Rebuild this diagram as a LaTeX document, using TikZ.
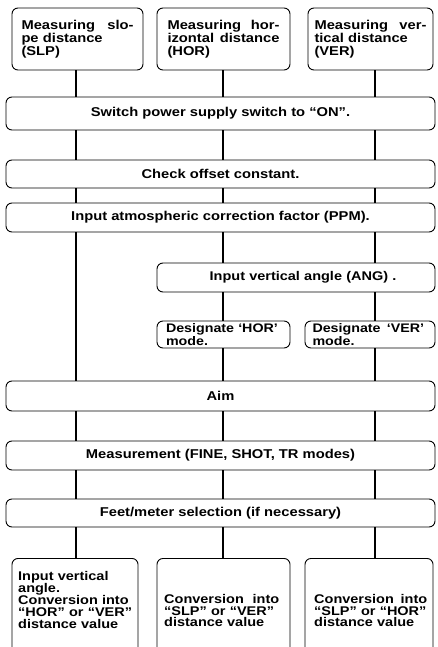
\documentclass[tikz,border=0pt]{standalone}
\usepackage{fontspec}
\setmainfont{Liberation Sans}[FakeStretch=1.15]
\tikzset{
  box/.style={draw, rounded corners=6pt, line width=0.9pt, inner sep=0pt,
    align=center, font=\bfseries\fontsize{12.8}{14}\selectfont},
  topbox/.style={box, minimum height=62pt, text width=112pt, align=left,
    font=\bfseries\fontsize{12.8}{12.8}\selectfont},
  wide/.style={box, minimum width=429pt},
  desbox/.style={box, minimum height=27pt, text width=115pt, align=left,
    font=\bfseries\fontsize{12.4}{11}\selectfont},
  botbox/.style={draw, rounded corners=6pt, line width=0.9pt, inner sep=0pt,
    minimum height=102pt},
  bottext/.style={anchor=north west, inner sep=0pt, align=left,
    font=\bfseries\fontsize{12.6}{11.8}\selectfont},
  conn/.style={line width=2.8pt},
}
\begin{document}
\begin{tikzpicture}[x=1pt,y=-1pt]
\useasboundingbox (0,0) rectangle (437,647);
\clip (0,0) rectangle (437,647);
% columns
\coordinate (c1) at (76,0);
\coordinate (c2) at (223,0);
\coordinate (c3) at (375,0);
% top boxes
\node[topbox, minimum width=131pt] (slp) at (77.5,39) {Measuring\hfill slo-\\pe distance\\(SLP)};
\node[topbox, minimum width=133pt] (hor) at (223.5,39) {Measuring\hfill hor-\\izontal\hfill distance\\(HOR)};
\node[topbox, minimum width=125pt] (ver) at (370.5,39) {Measuring\hfill ver-\\tical distance\\(VER)};
% wide boxes
\node[wide, minimum height=33pt] (sw) at (220.5,113.5) {Switch power supply switch to “ON”.};
\node[wide, minimum height=28pt] (chk) at (220.5,174) {Check offset constant.};
\node[wide, minimum height=29pt] (atm) at (220.5,217.5) {Input atmospheric correction factor (PPM).};
\node[box, minimum width=278pt, minimum height=29pt, text width=278pt, font=\bfseries\fontsize{12.6}{14}\selectfont] (ang) at (296,277.5) {\hspace*{14pt}Input vertical angle (ANG) .};
\node[desbox, minimum width=133pt] (desh) at (223.5,334.5) {Designate ‘HOR’\\mode.};
\node[desbox, minimum width=130pt] (desv) at (370,334.5) {Designate \,‘VER’\\mode.};
\node[wide, minimum height=30pt] (aim) at (220.5,396) {Aim};
\node[wide, minimum height=29pt] (meas) at (220.5,455.5) {Measurement (FINE, SHOT, TR modes)};
\node[wide, minimum height=28pt] (feet) at (220.5,513) {Feet/meter selection (if necessary)};
% bottom boxes
\node[botbox, minimum width=126pt, anchor=north] (b1) at (75,558) {};
\node[botbox, minimum width=133pt, anchor=north] (b2) at (223.5,558) {};
\node[botbox, minimum width=128pt, anchor=north] (b3) at (369,558) {};
\node[bottext, text width=118pt] (t1) at (18,571) {Input vertical\\angle.\\Conversion into\\“HOR” or “VER”\\distance value};
\node[bottext, text width=115pt] (t2) at (164,594) {Conversion\hfill into\\“SLP” or “VER”\\distance value};
\node[bottext, text width=113pt] (t3) at (314,594) {Conversion\hfill into\\“SLP” or “HOR”\\distance value};
% connectors
\draw[conn] (slp.south -| c1) -- (sw.north -| c1);
\draw[conn] (hor.south -| c2) -- (sw.north -| c2);
\draw[conn] (ver.south -| c3) -- (sw.north -| c3);
\foreach \a/\b in {sw/chk, chk/atm, aim/meas, meas/feet} {
  \draw[conn] (\a.south -| c1) -- (\b.north -| c1);
  \draw[conn] (\a.south -| c2) -- (\b.north -| c2);
  \draw[conn] (\a.south -| c3) -- (\b.north -| c3);
}
\draw[conn] (atm.south -| c1) -- (aim.north -| c1);
\draw[conn] (atm.south -| c2) -- (ang.north -| c2);
\draw[conn] (atm.south -| c3) -- (ang.north -| c3);
\draw[conn] (ang.south -| c2) -- (desh.north -| c2);
\draw[conn] (ang.south -| c3) -- (desv.north -| c3);
\draw[conn] (desh.south -| c2) -- (aim.north -| c2);
\draw[conn] (desv.south -| c3) -- (aim.north -| c3);
\draw[conn] (feet.south -| c1) -- (b1.north -| c1);
\draw[conn] (feet.south -| c2) -- (b2.north -| c2);
\draw[conn] (feet.south -| c3) -- (b3.north -| c3);
\end{tikzpicture}
\end{document}
